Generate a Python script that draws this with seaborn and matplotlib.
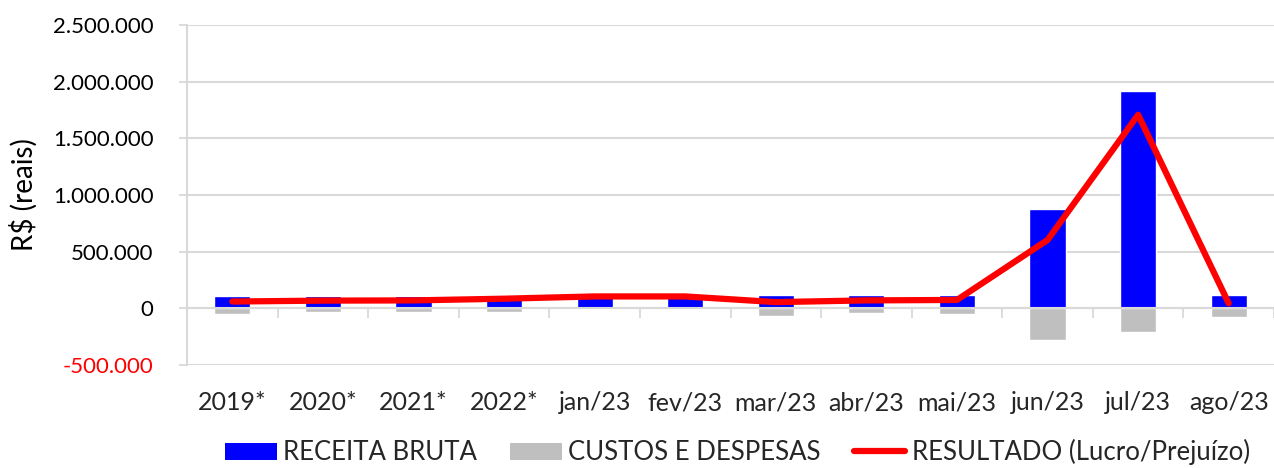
import numpy as np
import pandas as pd
import matplotlib
matplotlib.use("Agg")
import matplotlib.pyplot as plt
import seaborn as sns
from matplotlib.patches import Patch
from matplotlib.lines import Line2D

categorias = ["2019*", "2020*", "2021*", "2022*", "jan/23", "fev/23", "mar/23",
              "abr/23", "mai/23", "jun/23", "jul/23", "ago/23"]
receita_bruta = [112000, 108000, 105000, 118000, 110000, 110000, 120000,
                 120000, 118000, 880000, 1914000, 118000]
custos_despesas = [-47000, -35000, -35000, -28000, -5000, -5000, -65000,
                   -45000, -50000, -280000, -212000, -74000]
resultado = [60000, 68000, 70000, 85000, 105000, 105000, 55000,
             70000, 74000, 603000, 1708000, 44000]
yticks = [-500000, 0, 500000, 1000000, 1500000, 2000000, 2500000]
ytick_labels = ["-500.000", "0", "500.000", "1.000.000", "1.500.000", "2.000.000", "2.500.000"]

sns.set_theme(style="white")
plt.rcParams["font.family"] = ["Lato", "DejaVu Sans"]
FS_Y = 16
FS_X = 18
FS_LEG = 18.5

fig = plt.figure(figsize=(12.74, 4.68), dpi=100)
ax = fig.add_axes([187/1274, 1-365/468, 1-187/1274, (365-25)/468])

df = pd.DataFrame({"cat": categorias, "receita": receita_bruta,
                   "custos": custos_despesas, "resultado": resultado})

sns.barplot(data=df, x="cat", y="receita", color="#0000FF", saturation=1,
            width=0.4, ax=ax, zorder=2)
sns.barplot(data=df, x="cat", y="custos", color="#BFBFBF", saturation=1,
            width=0.4, ax=ax, zorder=2)
sns.lineplot(x=np.arange(len(categorias)), y=df["resultado"], color="#FF0000",
             lw=4.5, ax=ax, zorder=3, sort=False)

ax.set_xlim(-0.5, len(categorias) - 0.5)
ax.set_ylim(-500000, 2500000)
ax.set_yticks(yticks)
ax.set_yticklabels(ytick_labels, fontsize=FS_Y)
for lab in ax.get_yticklabels():
    if lab.get_text().startswith("-"):
        lab.set_color("#FF0000")
    else:
        lab.set_color("black")
ax.tick_params(axis="y", length=6, width=1.3, color="#D9D9D9", pad=18, left=True)
ax.grid(axis="y", color="#D9D9D9", lw=1.5, zorder=0)
ax.set_axisbelow(True)

# category axis at zero with boundary tick marks
ax.spines["bottom"].set_position(("data", 0))
ax.spines["bottom"].set_color("#D9D9D9")
ax.spines["bottom"].set_linewidth(1.5)
ax.spines["left"].set_color("#D9D9D9")
ax.spines["left"].set_linewidth(1.5)
ax.spines["top"].set_visible(False)
ax.spines["right"].set_visible(False)
ax.set_xticks(np.arange(len(categorias) + 1) - 0.5)
ax.set_xticklabels([])
ax.tick_params(axis="x", bottom=True, length=7, width=1.3, color="#D9D9D9", direction="out")
ax.set_xlabel("")

sec = ax.secondary_xaxis(0)
sec.set_xticks(np.arange(len(categorias)))
sec.set_xticklabels(categorias, fontsize=FS_X)
sec.tick_params(length=0, pad=19)
sec.spines["bottom"].set_visible(False)

ax.set_ylabel("R$ (reais)", fontsize=20, color="black")
ax.yaxis.set_label_coords((38 - 187) / 1087, 0.5)

handles = [Patch(facecolor="#0000FF", edgecolor="none", label="RECEITA BRUTA"),
           Patch(facecolor="#BFBFBF", edgecolor="none", label="CUSTOS E DESPESAS"),
           Line2D([0], [0], color="#FF0000", lw=4.5, label="RESULTADO (Lucro/Prejuízo)")]
fig.legend(handles=handles, loc="center", bbox_to_anchor=(0.579, 0.034), ncol=3,
           frameon=False, fontsize=FS_LEG, handlelength=2.0, handleheight=0.65,
           handletextpad=0.25, columnspacing=1.3, borderpad=0.1)

fig.savefig("out.png", dpi=100)
